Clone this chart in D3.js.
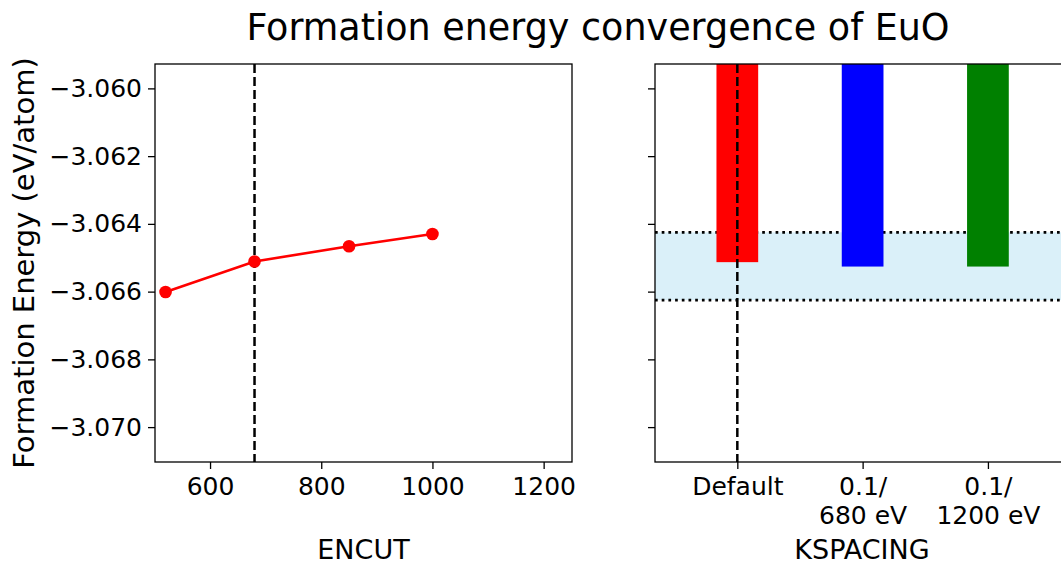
<!DOCTYPE html>
<html>
<head>
<meta charset="utf-8">
<script src="https://cdn.jsdelivr.net/npm/d3@7"></script>
<style>
  body { margin: 0; background: #fff; }
  text { font-family: "DejaVu Sans", sans-serif; fill: #000; }
</style>
</head>
<body>
<div id="chart"></div>
<script>
// ENCUT convergence (left panel)
var encut = [520, 680, 850, 1000];
var encutEnergy = [-3.06601, -3.06511, -3.06466, -3.06430];
var encutChosen = 680;
var encutTicks = [600, 800, 1000, 1200];

// KSPACING convergence (right panel)
var kspacingCats = ["Default", "0.1/\n680 eV", "0.1/\n1200 eV"];
var kspacingEnergy = [-3.06513, -3.06526, -3.06526];
var kspacingColors = ["#ff0000", "#0000ff", "#008000"];
var bandLow = -3.06625, bandHigh = -3.06425;

var yTicks = [-3.060, -3.062, -3.064, -3.066, -3.068, -3.070];

var W = 1061, H = 565;
var plotTop = 64, plotBottom = 462;
var leftX = 155, rightX = 655, panelW = 417;

var svg = d3.select("#chart").append("svg")
    .attr("width", W).attr("height", H);

var y = d3.scaleLinear().domain([-3.07103, -3.05928]).range([plotBottom, plotTop]);
var x1 = d3.scaleLinear().domain([501, 1251]).range([leftX, leftX + panelW]);
var x2 = d3.scaleLinear().domain([-0.657, 2.671]).range([rightX, rightX + panelW]);

var fmt = function(d) { return d3.format(".3f")(d).replace("-", "\u2212"); };

// clip paths
var defs = svg.append("defs");
defs.append("clipPath").attr("id", "clipL").append("rect")
    .attr("x", leftX).attr("y", plotTop).attr("width", panelW).attr("height", plotBottom - plotTop);
defs.append("clipPath").attr("id", "clipR").append("rect")
    .attr("x", rightX).attr("y", plotTop).attr("width", panelW).attr("height", plotBottom - plotTop);

// ---- left panel
var gL = svg.append("g").attr("clip-path", "url(#clipL)");
gL.append("line")
    .attr("x1", x1(encutChosen)).attr("x2", x1(encutChosen))
    .attr("y1", plotTop).attr("y2", plotBottom)
    .attr("stroke", "#000").attr("stroke-width", 2.5).attr("stroke-dasharray", "9,4");

var line = d3.line().x(function(d, i) { return x1(encut[i]); }).y(function(d) { return y(d); });
gL.append("path").datum(encutEnergy)
    .attr("d", line).attr("fill", "none").attr("stroke", "#ff0000").attr("stroke-width", 2.6);
gL.selectAll("circle").data(encutEnergy).enter().append("circle")
    .attr("cx", function(d, i) { return x1(encut[i]); })
    .attr("cy", function(d) { return y(d); })
    .attr("r", 6.3).attr("fill", "#ff0000");

var axisStyle = function(g) {
  g.selectAll(".domain").remove();
  g.selectAll(".tick line").attr("stroke", "#000").attr("stroke-width", 1.3);
  g.selectAll(".tick text").style("font-size", "25px").style("font-family", "DejaVu Sans");
};

svg.append("g").attr("transform", "translate(" + leftX + ",0)")
    .call(d3.axisLeft(y).tickValues(yTicks).tickFormat(fmt).tickSize(7).tickPadding(6))
    .call(axisStyle);
var gx1 = svg.append("g").attr("transform", "translate(0," + plotBottom + ")")
    .call(d3.axisBottom(x1).tickValues(encutTicks).tickFormat(d3.format("d")).tickSize(7))
    .call(axisStyle);
gx1.selectAll(".tick text").attr("dy", null).attr("y", 33);

svg.append("rect").attr("x", leftX).attr("y", plotTop).attr("width", panelW).attr("height", plotBottom - plotTop)
    .attr("fill", "none").attr("stroke", "#000").attr("stroke-width", 1.3);

// ---- right panel
var gR = svg.append("g").attr("clip-path", "url(#clipR)");
gR.append("rect")
    .attr("x", rightX).attr("width", panelW)
    .attr("y", y(bandHigh)).attr("height", y(bandLow) - y(bandHigh))
    .attr("fill", "#daf0f9");
[bandHigh, bandLow].forEach(function(v) {
  gR.append("line").attr("x1", rightX).attr("x2", rightX + panelW)
      .attr("y1", y(v)).attr("y2", y(v))
      .attr("stroke", "#000").attr("stroke-width", 2.7).attr("stroke-dasharray", "2.7,4");
});
var bw = 0.333;
gR.selectAll(".bar").data(kspacingEnergy).enter().append("rect")
    .attr("class", "bar")
    .attr("x", function(d, i) { return x2(i - bw / 2); })
    .attr("width", function(d, i) { return x2(i + bw / 2) - x2(i - bw / 2); })
    .attr("y", y(-3.05))
    .attr("height", function(d) { return y(d) - y(-3.05); })
    .attr("fill", function(d, i) { return kspacingColors[i]; });
gR.append("line")
    .attr("x1", x2(0)).attr("x2", x2(0)).attr("y1", plotTop).attr("y2", plotBottom)
    .attr("stroke", "#000").attr("stroke-width", 2.5).attr("stroke-dasharray", "9,4");

svg.append("g").attr("transform", "translate(" + rightX + ",0)")
    .call(d3.axisLeft(y).tickValues(yTicks).tickFormat("").tickSize(7))
    .call(axisStyle);
var gx2 = svg.append("g").attr("transform", "translate(0," + plotBottom + ")")
    .call(d3.axisBottom(x2).tickValues([0, 1, 2]).tickFormat("").tickSize(7))
    .call(axisStyle);
gx2.selectAll(".tick").each(function(d) {
  var t = d3.select(this).append("text").attr("text-anchor", "middle")
      .style("font-size", "25px");
  kspacingCats[d].split("\n").forEach(function(s, j) {
    t.append("tspan").attr("x", 0).attr("y", 33 + j * 29).text(s);
  });
});
svg.append("rect").attr("x", rightX).attr("y", plotTop).attr("width", panelW).attr("height", plotBottom - plotTop)
    .attr("fill", "none").attr("stroke", "#000").attr("stroke-width", 1.3);

// ---- labels
svg.append("text").attr("x", 598).attr("y", 40).attr("text-anchor", "middle")
    .style("font-size", "36.5px").text("Formation energy convergence of EuO");
svg.append("text").attr("transform", "translate(34," + ((plotTop + plotBottom) / 2) + ") rotate(-90)")
    .attr("text-anchor", "middle").style("font-size", "29px").text("Formation Energy (eV/atom)");
svg.append("text").attr("x", leftX + panelW / 2).attr("y", 559).attr("text-anchor", "middle")
    .style("font-size", "27px").text("ENCUT");
svg.append("text").attr("x", 862).attr("y", 559).attr("text-anchor", "middle")
    .style("font-size", "27px").text("KSPACING");
</script>
</body>
</html>
